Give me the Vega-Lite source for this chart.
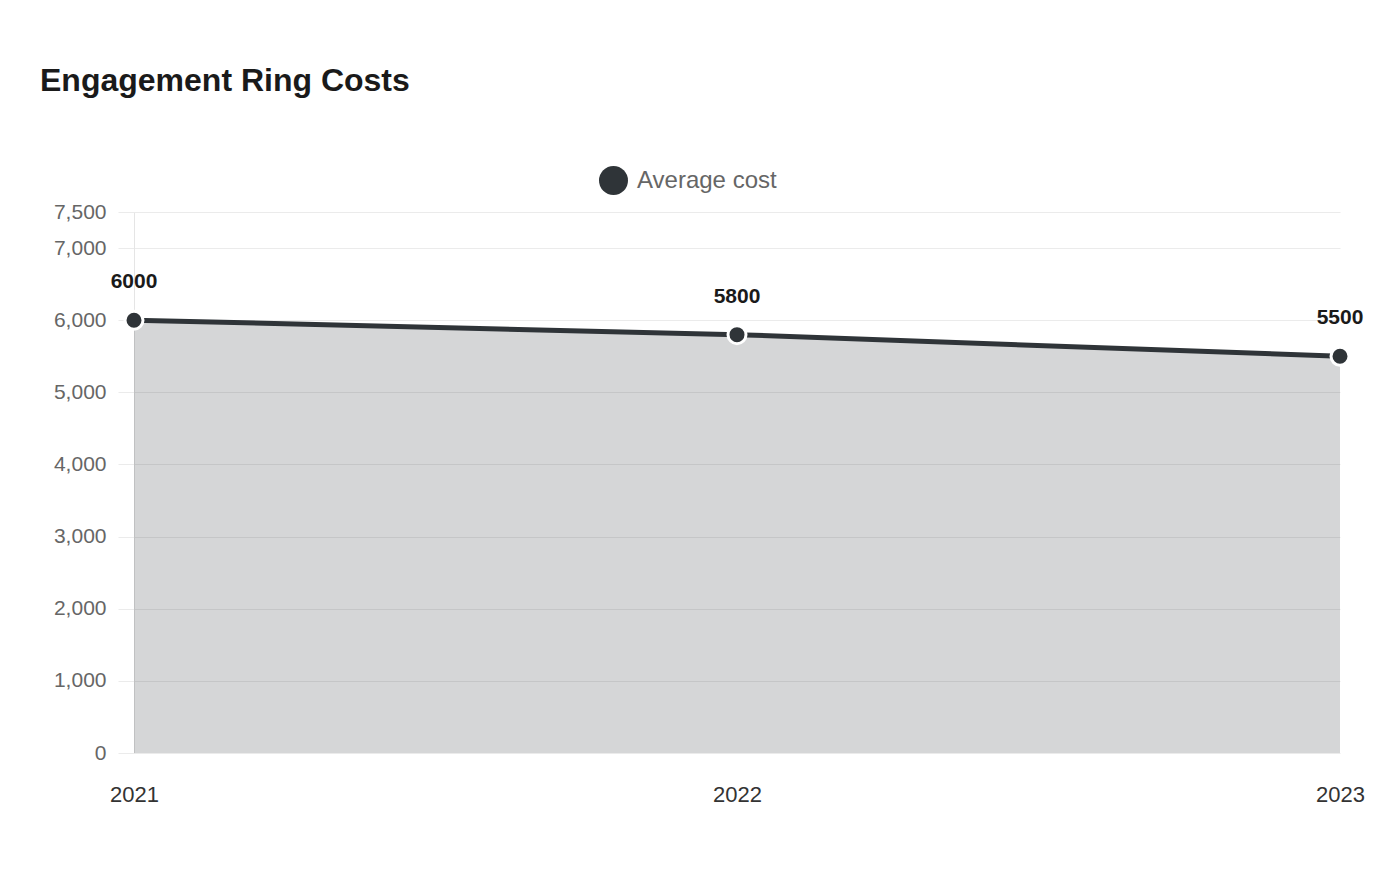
{
  "$schema": "https://vega.github.io/schema/vega-lite/v6.json",
  "width": 1206,
  "height": 541,
  "autosize": "none",
  "padding": {"left": 134, "top": 212, "right": 60, "bottom": 127},
  "background": "white",
  "config": {
    "font": "Liberation Sans",
    "view": {"stroke": null}
  },
  "title": {
    "text": "Engagement Ring Costs",
    "anchor": "start",
    "frame": "group",
    "dx": -94,
    "offset": 68,
    "fontSize": 32,
    "fontWeight": "bold",
    "color": "#1a1a1a"
  },
  "data": {
    "values": [
      {"year": "2021", "cost": 6000, "series": "Average cost"},
      {"year": "2022", "cost": 5800, "series": "Average cost"},
      {"year": "2023", "cost": 5500, "series": "Average cost"}
    ]
  },
  "encoding": {
    "x": {
      "field": "year",
      "type": "ordinal",
      "scale": {"type": "point", "padding": 0},
      "axis": {
        "title": null,
        "labelAngle": 0,
        "labelFontSize": 22,
        "labelColor": "#333333",
        "labelPadding": 31,
        "ticks": false,
        "domain": false,
        "grid": false
      }
    },
    "y": {
      "field": "cost",
      "type": "quantitative",
      "scale": {"domain": [0, 7500], "nice": false},
      "axis": {
        "title": null,
        "values": [0, 1000, 2000, 3000, 4000, 5000, 6000, 7000, 7500],
        "format": ",.0f",
        "labelFontSize": 21,
        "labelColor": "#666666",
        "labelPadding": 12,
        "tickSize": 16,
        "tickColor": "#ebebeb",
        "gridColor": "#ebebeb",
        "domainColor": "#e5e5e5"
      }
    }
  },
  "layer": [
    {
      "mark": {"type": "area", "color": "#2f3438", "opacity": 0.2}
    },
    {
      "mark": {"type": "line", "color": "#2f3438", "strokeWidth": 5}
    },
    {
      "mark": {"type": "point", "filled": true, "size": 324, "stroke": "white", "strokeWidth": 3, "opacity": 1},
      "encoding": {
        "color": {
          "field": "series",
          "type": "nominal",
          "scale": {"range": ["#2f3438"]},
          "legend": {
            "title": null,
            "orient": "none",
            "legendX": 465,
            "legendY": -46,
            "direction": "horizontal",
            "symbolType": "circle",
            "symbolSize": 841,
            "symbolStrokeWidth": 0,
            "labelFontSize": 24,
            "labelColor": "#666666",
            "labelOffset": 9
          }
        }
      }
    },
    {
      "mark": {"type": "text", "dy": -38, "fontSize": 21, "fontWeight": "bold", "color": "#1a1a1a"},
      "encoding": {"text": {"field": "cost", "type": "quantitative", "format": "d"}}
    }
  ]
}
